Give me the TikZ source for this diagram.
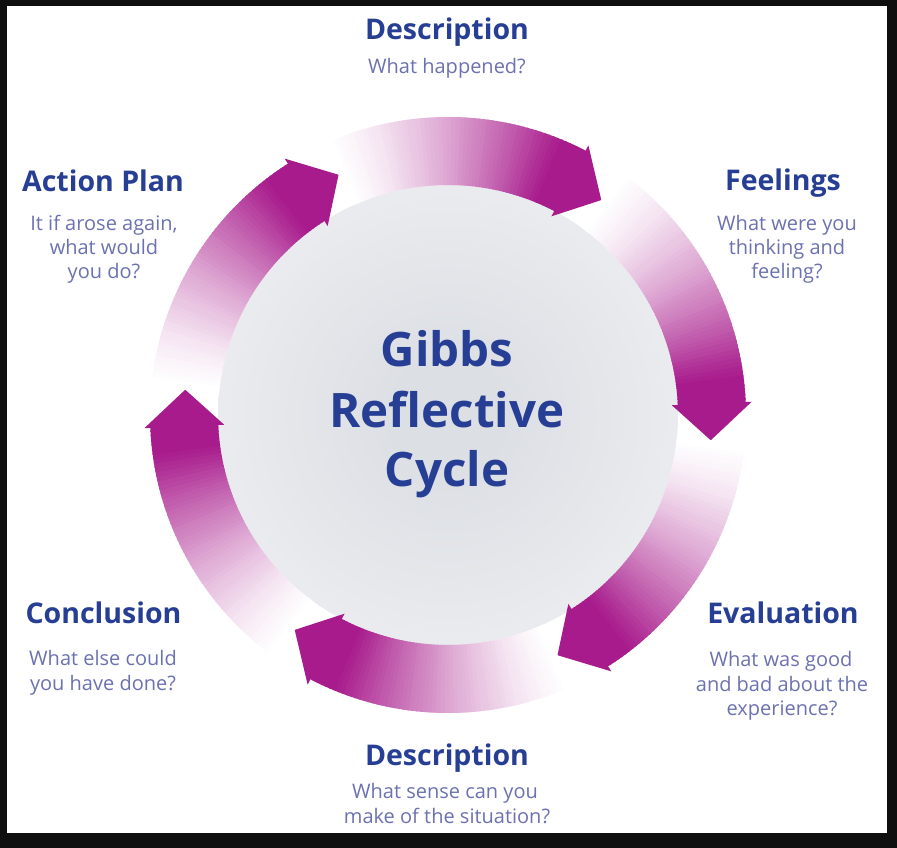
\documentclass[tikz,border=0pt]{standalone}
\usepackage{fontspec}
\setmainfont{Open Sans}
\definecolor{mag}{RGB}{168,27,140}
\definecolor{ttl}{RGB}{38,62,148}
\definecolor{sub}{RGB}{108,114,176}
\definecolor{discin}{RGB}{220,223,228}
\definecolor{discout}{RGB}{251,251,252}
\pgfdeclareradialshading{discshade}{\pgfpoint{0bp}{0bp}}{color(0bp)=(discin); color(6bp)=(discin); color(49bp)=(discout); color(100bp)=(discout)}
\begin{document}
\begin{tikzpicture}[x=1pt,y=1pt,
  ttlstyle/.style={font=\bfseries\fontsize{28.5}{34}\selectfont, text=ttl, anchor=base, inner sep=0pt},
  substyle/.style={font=\fontsize{20}{24}\selectfont, text=sub, anchor=base, inner sep=0pt},
  ctrstyle/.style={font=\bfseries\fontsize{47.5}{60}\selectfont, text=ttl, anchor=base, inner sep=0pt}]
\useasboundingbox (0,0) rectangle (897,848);
\fill[black!94] (0,0) rectangle (897,848);
\fill[white] (7,15) rectangle (887,842);
\begin{scope}[shift={(448,433)}]
\shade[shading=discshade] (0,0) circle[radius=230];
\foreach \b in {62.5,2.5,-57.5,-117.5,-177.5,-237.5}{
  \foreach \i in {0,...,59}{
    \pgfmathsetmacro\aone{\b+52-52*\i/60}
    \pgfmathsetmacro\atwo{\b+52-52*(\i+1)/60-0.4}
    \pgfmathtruncatemacro\p{100*min(1,pow((\i+0.5)/54,1.4))}
    \fill[mag!\p!white] (\aone:298) arc[start angle=\aone, end angle=\atwo, radius=298] -- (\atwo:230) arc[start angle=\atwo, end angle=\aone, radius=230] -- cycle;
  }
  \fill[mag] (\b:224) -- (\b-8:264) -- (\b:304) -- cycle;
}
\end{scope}
\node[ctrstyle] (c1) at (447,481) {Gibbs};
\node[ctrstyle] (c2) at (447,420) {Reflective};
\node[ctrstyle] (c3) at (447,361) {Cycle};
\node[ttlstyle] (d1t) at (447,808) {Description};
\node[substyle] (d1s) at (447,774) {What happened?};
\node[ttlstyle] (fet) at (783,657) {Feelings};
\node[substyle] (fes1) at (787,617) {What were you};
\node[substyle] (fes2) at (787,593) {thinking and};
\node[substyle] (fes3) at (787,569) {feeling?};
\node[ttlstyle] (apt) at (103,656) {Action Plan};
\node[substyle] (aps1) at (104,617) {It if arose again,};
\node[substyle] (aps2) at (104,593) {what would};
\node[substyle] (aps3) at (104,569) {you do?};
\node[ttlstyle] (evt) at (783,224) {Evaluation};
\node[substyle] (evs1) at (781,181) {What was good};
\node[substyle] (evs2) at (782,156.5) {and bad about the};
\node[substyle] (evs3) at (782,132) {experience?};
\node[ttlstyle] (cot) at (103.5,224) {Conclusion};
\node[substyle] (cos1) at (103,182) {What else could};
\node[substyle] (cos2) at (103,157.5) {you have done?};
\node[ttlstyle] (d2t) at (447,82) {Description};
\node[substyle] (d2s1) at (445,49) {What sense can you};
\node[substyle] (d2s2) at (447,24.5) {make of the situation?};
\end{tikzpicture}
\end{document}
